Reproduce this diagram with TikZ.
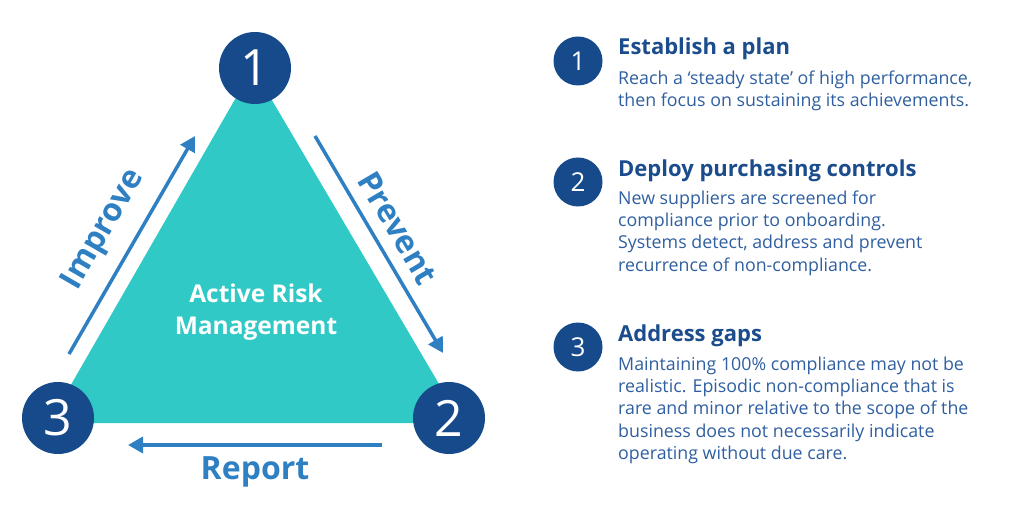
\documentclass[tikz,border=0pt]{standalone}
\usepackage{fontspec}
\setmainfont{Open Sans}
\usetikzlibrary{arrows.meta}
\definecolor{riskteal}{HTML}{30C9C6}
\definecolor{navy}{HTML}{174A8A}
\definecolor{arrowblue}{HTML}{2E80C3}
\definecolor{headblue}{HTML}{1B4C8C}
\definecolor{bodyblue}{HTML}{2F5FA0}

\begin{document}
\begin{tikzpicture}[x=1pt,y=-1pt,
  bignum/.style={circle,fill=navy,minimum size=72pt,inner sep=0pt,text=white,font=\fontsize{50}{50}\selectfont},
  smallnum/.style={circle,fill=navy,minimum size=49pt,inner sep=0pt,text=white,font=\fontsize{26}{26}\selectfont},
  flow/.style={arrowblue,line width=3.5pt,-{Triangle[length=15pt,width=16pt]}},
  flowlabel/.style={text=arrowblue,font=\fontsize{32}{32}\selectfont\bfseries},
  head/.style={anchor=base west,inner sep=0pt,text=headblue,font=\fontsize{22}{24}\selectfont\bfseries},
  body/.style={anchor=north west,inner sep=0pt,align=left,text=bodyblue,font=\fontsize{17.8}{22.3}\selectfont}]
\useasboundingbox (0,0) rectangle (1024,518);
\fill[riskteal] (253,68) -- (49,423) -- (462,423) -- cycle;
\node[bignum] (c1) at (255,68) {1};
\node[bignum] (c2) at (449,418) {2};
\node[bignum] (c3) at (58,418) {3};
\node[text=white,font=\fontsize{24.5}{32}\selectfont\bfseries,align=center] (arm) at (256,312) {Active Risk\\Management};
\coordinate (imp1) at (69,354);
\coordinate (imp2) at (195,136);
\coordinate (pre1) at (315,136);
\coordinate (pre2) at (443,353);
\coordinate (rep1) at (382,445);
\coordinate (rep2) at (128,445);
\draw[flow] (imp1) -- (imp2);
\draw[flow] (pre1) -- (pre2);
\draw[flow] (rep1) -- (rep2);
\node[flowlabel,rotate=60] (improve) at (104,230) {Improve};
\node[flowlabel,rotate=-59.5] (prevent) at (398,228) {Prevent};
\node[flowlabel,anchor=base] (report) at (255,479) {Report};

\node[smallnum] (s1) at (578,61) {1};
\node[head] (h1) at (618,55) {Establish a plan};
\node[body] (b1) at (618,70.5) {Reach a ‘steady state’ of high performance,\\then focus on sustaining its achievements.};
\node[smallnum] (s2) at (578,182) {2};
\node[head] (h2) at (618,177) {Deploy purchasing controls};
\node[body] (b2) at (618,190.5) {New suppliers are screened for\\compliance prior to onboarding.\\Systems detect, address and prevent\\recurrence of non-compliance.};
\node[smallnum] (s3) at (578,347) {3};
\node[head] (h3) at (618,341) {Address gaps};
\node[body] (b3) at (618,356.5) {Maintaining 100\% compliance may not be\\realistic. Episodic non-compliance that is\\rare and minor relative to the scope of the\\business does not necessarily indicate\\operating without due care.};
\end{tikzpicture}
\end{document}
